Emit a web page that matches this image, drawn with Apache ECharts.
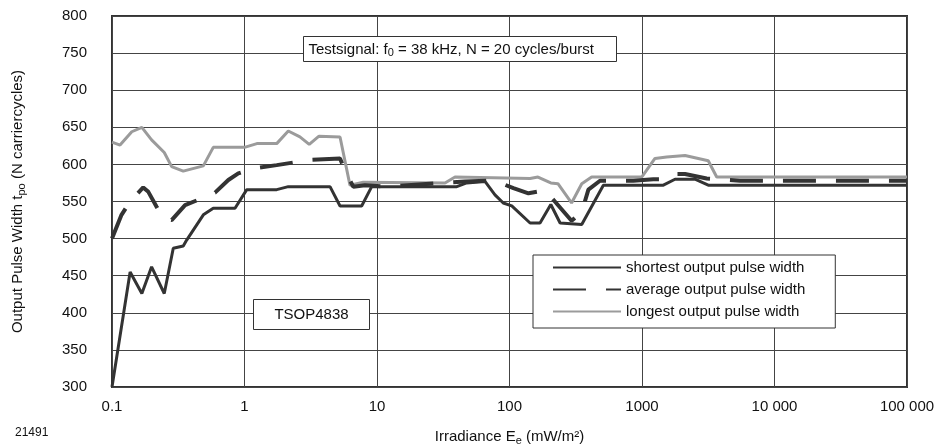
<!DOCTYPE html>
<html>
<head>
<meta charset="utf-8">
<script src="https://cdn.jsdelivr.net/npm/echarts@6/dist/echarts.min.js"></script>
<style>
  html, body { margin: 0; padding: 0; background: #fff; }
  #chart { width: 935px; height: 445px; }
</style>
</head>
<body>
<div id="chart"></div>
<script>
// irradiance (mW/m2) and pulse width (carrier cycles)
var shortX = [0.1, 0.137, 0.168, 0.199, 0.248, 0.29, 0.345, 0.366, 0.489, 0.581, 0.848, 1.04, 1.75, 2.14, 4.42, 5.26, 7.66, 9.12, 40, 47.5, 65.3, 77.7, 89.7, 104, 143, 170, 205, 241, 351, 511, 1449, 1775, 2512, 3162, 100000];
var shortY = [300, 455, 426, 462, 426, 487, 490, 498, 532, 541, 541, 566, 566, 570, 570, 544, 544, 570, 570, 575, 577, 559, 548, 544, 521, 521, 546, 521, 519, 572, 572, 580, 580, 572, 572];

var avgX = [0.1, 0.118, 0.137, 0.172, 0.188, 0.217, 0.244, 0.282, 0.356, 0.503, 0.599, 0.755, 0.898, 1.2, 1.75, 3.12, 5.26, 5.91, 6.63, 8.11, 12.2, 46.1, 67.3, 80, 107, 139, 185, 220, 294, 351, 394, 482, 860, 1216, 1535, 1775, 2113, 3076, 5495, 100000];
var avgY = [500, 532, 550, 569, 563, 543, 527, 525, 545, 556, 562, 579, 588, 595, 599, 606, 608, 586, 570, 572, 570, 577, 578, 577, 568, 561, 565, 550, 524, 536, 566, 578, 578, 580, 580, 587, 587, 581, 578, 578];

var longX = [0.1, 0.115, 0.141, 0.168, 0.199, 0.248, 0.282, 0.345, 0.489, 0.581, 1.0, 1.24, 1.75, 2.14, 2.62, 3.08, 3.65, 5.26, 6.25, 7.88, 32.6, 38.8, 143, 164, 205, 232, 294, 351, 417, 995, 1253, 1535, 2113, 3162, 3664, 100000];
var longY = [630, 626, 644, 650, 633, 616, 597, 591, 598, 623, 623, 628, 628, 645, 637, 627, 638, 637, 572, 576, 575, 583, 581, 583, 575, 574, 548, 574, 583, 583, 608, 610, 612, 605, 583, 583];

var seriesNames = ['shortest output pulse width', 'average output pulse width', 'longest output pulse width'];
var xTicks = {0.1: '0.1', 1: '1', 10: '10', 100: '100', 1000: '1000', 10000: '10 000', 100000: '100 000'};

function pairs(xs, ys) {
  return xs.map(function (x, i) { return [x, ys[i]]; });
}

var font = '"Liberation Sans", Arial, sans-serif';
var subStyle = { fontSize: 11, verticalAlign: 'bottom', padding: [8, 0, 0, 0], color: '#111', fontFamily: font };
var chart = echarts.init(document.getElementById('chart'));

chart.setOption({
  animation: false,
  textStyle: { fontFamily: font },
  grid: {
    left: 112, top: 16, right: 28, bottom: 58,
    outerBoundsMode: 'none',
    show: true, borderColor: '#333', borderWidth: 2
  },
  legend: {
    orient: 'vertical',
    left: 533, top: 255,
    padding: [5, 30, 9, 19],
    itemWidth: 68, itemHeight: 14, itemGap: 7,
    backgroundColor: '#fff',
    borderColor: '#333', borderWidth: 1,
    itemStyle: { opacity: 0 },
    textStyle: { fontSize: 15, color: '#111', fontFamily: font },
    data: seriesNames
  },
  xAxis: {
    type: 'log', logBase: 10, min: 0.1, max: 100000,
    name: 'Irradiance E{sub|e} (mW/m²)',
    nameLocation: 'middle', nameGap: 40,
    nameTextStyle: { fontSize: 15, color: '#111', fontFamily: font, rich: { sub: subStyle } },
    axisLine: { show: false },
    axisTick: { show: false },
    axisLabel: {
      fontSize: 15, color: '#111', margin: 12, fontFamily: font,
      formatter: function (v) { var k = Math.round(v * 10) / 10; return xTicks[k] || ''; }
    },
    splitLine: { show: true, lineStyle: { color: '#444', width: 1 } },
    minorTick: { show: false }
  },
  yAxis: {
    type: 'value', min: 300, max: 800, interval: 50,
    name: 'Output Pulse Width t{sub|po} (N carriercycles)',
    nameLocation: 'middle', nameGap: 85,
    nameTextStyle: { fontSize: 15, color: '#111', fontFamily: font, rich: { sub: subStyle } },
    axisLine: { show: false },
    axisTick: { show: false },
    axisLabel: { fontSize: 15, color: '#111', margin: 25, fontFamily: font },
    splitLine: { show: true, lineStyle: { color: '#444', width: 1 } }
  },
  series: [
    {
      name: seriesNames[0], type: 'line', symbol: 'none', z: 4,
      data: pairs(shortX, shortY),
      lineStyle: { color: '#333', width: 3 },
      itemStyle: { color: '#333' }
    },
    {
      name: seriesNames[1], type: 'line', symbol: 'none', z: 3,
      data: pairs(avgX, avgY),
      lineStyle: { color: '#333', width: 4, type: [33, 20] },
      itemStyle: { color: '#333' }
    },
    {
      name: seriesNames[2], type: 'line', symbol: 'none', z: 2,
      data: pairs(longX, longY),
      lineStyle: { color: '#9b9b9b', width: 3 },
      itemStyle: { color: '#9b9b9b' }
    }
  ],
  graphic: [
    {
      type: 'group', left: 303, top: 36, z: 100,
      children: [
        { type: 'rect', z: 100, shape: { x: 0, y: 0, width: 313, height: 25 }, style: { fill: '#fff', stroke: '#333', lineWidth: 1 } },
        {
          type: 'text', z: 101, x: 5, y: 4,
          style: {
            text: 'Testsignal: f{sub|0} = 38 kHz, N = 20 cycles/burst',
            fontSize: 15, fill: '#111', fontFamily: font,
            rich: { sub: { fontSize: 11, verticalAlign: 'bottom', padding: [7, 0, 0, 0], fill: '#111', fontFamily: font } }
          }
        }
      ]
    },
    {
      type: 'group', left: 253, top: 299, z: 100,
      children: [
        { type: 'rect', z: 100, shape: { x: 0, y: 0, width: 116, height: 30 }, style: { fill: '#fff', stroke: '#333', lineWidth: 1 } },
        { type: 'text', z: 101, x: 58, y: 15, style: { text: 'TSOP4838', fontSize: 15, fill: '#111', fontFamily: font, align: 'center', verticalAlign: 'middle' } }
      ]
    },
    {
      type: 'text', left: 15, top: 427,
      style: { text: '21491', fontSize: 12, fill: '#111', fontFamily: font }
    }
  ]
});
</script>
</body>
</html>
